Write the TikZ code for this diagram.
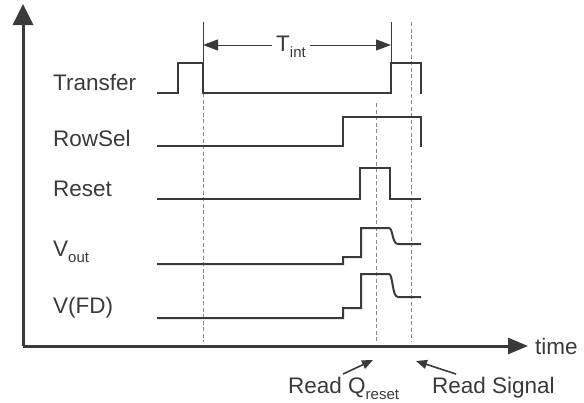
\documentclass[tikz,border=0pt]{standalone}
\usepackage{fontspec}
\setmainfont{Liberation Sans}
\usetikzlibrary{arrows.meta}
\definecolor{ink}{HTML}{3A3A3A}
\definecolor{dash}{HTML}{8A8A8A}
\newcommand{\subtxt}[1]{\raisebox{-0.28em}{\fontsize{15}{18}\selectfont #1}}
\tikzset{
  sig/.style={draw=ink, line width=2pt, line join=miter},
  axisline/.style={draw=ink, line width=3pt, -{Triangle[length=21pt,width=20pt]}},
  guide/.style={draw=dash, line width=1pt, dash pattern=on 4pt off 2.5pt},
  tick/.style={draw=ink, line width=1pt},
  lab/.style={font=\fontsize{22.5}{27}\selectfont, text=ink, anchor=west, inner sep=0pt},
  note/.style={font=\fontsize{22.5}{27}\selectfont, text=ink, inner sep=0pt},
  ptr/.style={draw=ink, line width=1.6pt, -{Triangle[length=11pt,width=9pt]}},
  dim/.style={draw=ink, line width=1pt, -{Triangle[length=15pt,width=11pt]}}
}
\begin{document}
\begin{tikzpicture}[x=1pt,y=-1pt]
\useasboundingbox (0,0) rectangle (584,402);
% axes
\coordinate (o) at (23,346);
\coordinate (ytop) at (23,4);
\coordinate (xend) at (528,346);
\draw[axisline] (o) -- (ytop);
\draw[axisline, -{Triangle[length=20pt,width=16pt]}] (o) -- (xend);
\node[note, anchor=west] (time) at (535,346) {time};
% guides
\draw[tick] (203,22) -- (203,63);
\draw[tick] (391,22) -- (391,63);
\draw[guide] (203,93) -- (203,342);
\draw[guide] (411,22) -- (411,342);
\draw[guide] (376,103) -- (376,342);
% T_int
\node[note] (tint) at (291,47) {T\subtxt{int}};
\coordinate (tl) at (203,45);
\coordinate (tr) at (391,45);
\draw[dim] (tint.west) ++(-4,-2) -- (tl);
\draw[dim] (tint.east) ++(4,-2) -- (tr);
% labels
\node[lab] (ltr) at (53,82) {Transfer};
\node[lab] (lrs) at (53,138) {RowSel};
\node[lab] (lre) at (53,189) {Reset};
\node[lab] (lvo) at (53,252) {V\subtxt{out}};
\node[lab] (lfd) at (53,308) {V(FD)};
% signals
\draw[sig] (157,93) -- (178,93) -- (178,63) -- (203,63) -- (203,93) -- (391,93) -- (391,63) -- (421,63) -- (421,94);
\draw[sig] (157,146) -- (343,146) -- (343,117) -- (421,117) -- (421,147);
\draw[sig] (157,199) -- (360,199) -- (360,168) -- (390,168) -- (390,199) -- (421,199);
\draw[sig] (157,264) -- (343,264) -- (343,257) -- (361,257) -- (361,228) -- (389,228)
  .. controls (393,228) and (392,244) .. (398,244) -- (421,244);
\draw[sig] (157,318) -- (343,318) -- (343,308) -- (361,308) -- (361,274) -- (389,274)
  .. controls (393,274) and (392,297) .. (398,297) -- (421,297);
% read annotations
\node[note, anchor=base west] (rq) at (288,393) {Read Q\subtxt{reset}};
\node[note, anchor=base west] (rs) at (432,393) {Read Signal};
\coordinate (rqt) at (373,360);
\coordinate (rst) at (416,361);
\draw[ptr] (343,374) -- (rqt);
\draw[ptr] (456,374) -- (rst);
\end{tikzpicture}
\end{document}
